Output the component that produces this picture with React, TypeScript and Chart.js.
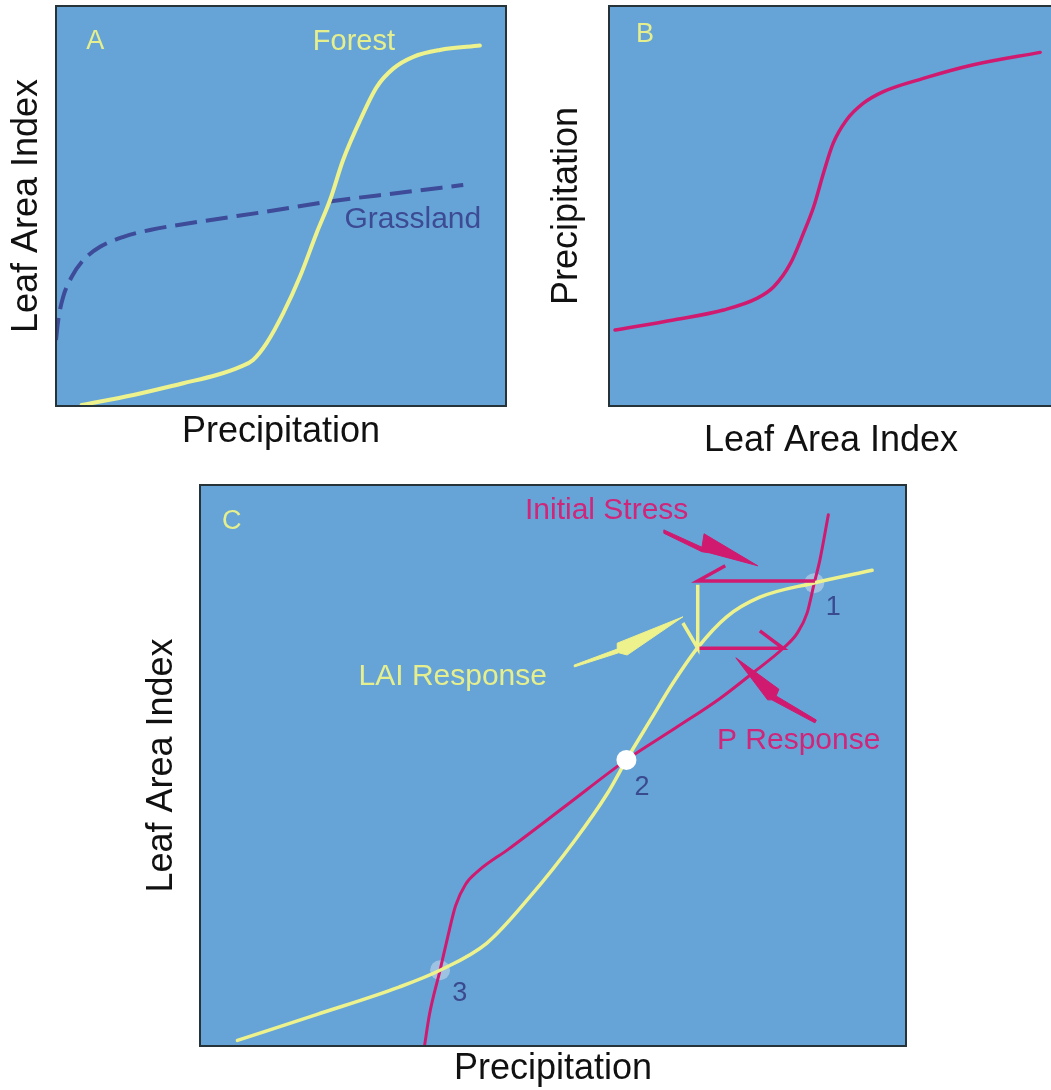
import React, { useEffect, useRef } from 'react';
import { Chart, registerables } from 'chart.js';

Chart.register(...registerables);

const FONT = "'Liberation Sans', Arial, Helvetica, sans-serif";
const BG = '#66a4d7';
const BORDER = '#26343a';
const YELLOW = '#eef28c';
const MAGENTA = '#cf1a70';
const NAVY = '#3d4b99';

// ---------- Panel A: LAI vs precipitation ----------
const forestPrecip = [5.7, 17.2, 28.3, 35.7, 40.9, 43.8, 46.8, 50.5, 54.2, 57.9, 60.9, 63.8, 67.6, 71.3, 75.0, 79.4, 85.3, 94.2];
const forestLAI = [0.25, 2.75, 5.7, 7.75, 9.8, 11.5, 15.7, 23.2, 32.3, 43.2, 51.5, 61.5, 71.5, 79.8, 84.4, 87.3, 89.0, 90.1];
const grassPrecip = [0, 0.5, 1.6, 3.5, 6.1, 9.8, 15, 20.9, 32, 46.8, 61.6, 76.4, 90.5];
const grassLAI = [16.5, 21.5, 27.3, 32.3, 36.5, 39.8, 42.3, 44, 46.1, 48.6, 51.25, 53.3, 55.25];

// ---------- Panel B: precipitation vs LAI ----------
const bLAI = [1.35, 14.5, 25.8, 33.3, 37.1, 40.9, 43.8, 46.1, 48.3, 50.5, 53.5, 57.3, 61.8, 70.8, 82.1, 97.1];
const bPrecip = [19.0, 21.5, 24.0, 26.9, 29.8, 35.7, 43.2, 49.8, 58.2, 65.7, 71.5, 75.7, 78.6, 81.9, 85.3, 88.4];

// ---------- Panel C: coupled curves ----------
const laiCurveP = [5.3, 16.5, 28.2, 34.0, 40.6, 46.8, 53.0, 57.7, 60.4, 63.9, 67.0, 70.5, 74.6, 79.3, 86.8, 95.2];
const laiCurveL = [1.0, 5.6, 10.5, 13.5, 18.3, 26.7, 36.5, 45.0, 51.0, 58.3, 64.7, 71.0, 76.5, 80.0, 82.5, 84.8];
const precCurveP = [31.8, 32.5, 34.0, 35.1, 36.2, 37.6, 39.5, 43.7, 52.0, 60.4, 67.5, 73.7, 78.3, 82.6, 84.6, 86.0, 87.0, 87.8, 89.0];
const precCurveL = [0, 5.6, 13.5, 19.5, 25.0, 28.8, 31.3, 35.1, 43.0, 51.0, 56.8, 62.0, 66.5, 70.9, 73.6, 77.2, 82.5, 86.6, 94.7];

// response arrows (polyline: shaft + half head)
const stressArrowP = [87.1, 70.5, 74.4];
const stressArrowL = [82.9, 82.9, 85.6];
const laiArrowP = [70.5, 70.5, 68.4];
const laiArrowL = [82.2, 70.9, 75.4];
const pArrowP = [70.5, 82.6, 79.3];
const pArrowL = [70.9, 70.9, 74.0];

// lightning-bolt pointers (closed outlines)
const stressBoltP = [65.7, 71.1, 71.4, 79.0, 72.2, 71.1, 65.7, 65.7];
const stressBoltL = [92.0, 88.9, 91.3, 85.6, 87.9, 88.1, 91.4, 92.0];
const laiBoltP = [53.0, 59.2, 59.1, 68.4, 60.5, 59.3, 53.1, 53.0];
const laiBoltL = [67.9, 70.8, 71.8, 76.5, 69.7, 70.1, 67.6, 67.9];
const pBoltP = [75.9, 82.0, 81.6, 87.3, 87.1, 81.0, 80.4, 75.9];
const pBoltL = [69.2, 63.6, 62.4, 58.1, 57.6, 61.7, 61.7, 69.2];

// equilibrium points
const stablePointsP = [87.0, 34.0];
const stablePointsL = [82.5, 13.5];
const unstablePointP = [60.4];
const unstablePointL = [51.0];

type Label = { text: string; x: number; y: number; size: number; color: string };

const labelsA: Label[] = [
  { text: 'A', x: 8.7, y: 91, size: 27, color: '#e6ef8e' },
  { text: 'Forest', x: 66.2, y: 91, size: 29, color: '#e6ef8e' },
  { text: 'Grassland', x: 79.3, y: 46.5, size: 30, color: '#3d4b94' },
];
const labelsB: Label[] = [{ text: 'B', x: 8.1, y: 92.75, size: 27, color: '#e6ef8e' }];
const labelsC: Label[] = [
  { text: 'C', x: 4.5, y: 93.4, size: 27, color: '#e6ef8e' },
  { text: 'Initial Stress', x: 57.6, y: 95.4, size: 30, color: '#d0267a' },
  { text: 'LAI Response', x: 35.8, y: 65.8, size: 30, color: '#e6ef8e' },
  { text: 'P Response', x: 84.8, y: 54.5, size: 30, color: '#d0267a' },
  { text: '1', x: 89.7, y: 78.1, size: 27, color: '#3a4a8e' },
  { text: '2', x: 62.6, y: 46.0, size: 27, color: '#3a4a8e' },
  { text: '3', x: 36.8, y: 9.4, size: 27, color: '#3a4a8e' },
];

const zip = (xs: number[], ys: number[]) => xs.map((x, i) => ({ x, y: ys[i] }));

function panelPlugin(labels: Label[]) {
  return {
    id: 'panel',
    beforeDatasetsDraw(chart: any) {
      const { ctx, chartArea } = chart;
      ctx.save();
      ctx.fillStyle = BG;
      ctx.fillRect(chartArea.left, chartArea.top, chartArea.right - chartArea.left, chartArea.bottom - chartArea.top);
      ctx.restore();
    },
    afterDatasetsDraw(chart: any) {
      const { ctx, chartArea } = chart;
      const xs = chart.scales.x;
      const ys = chart.scales.y;
      ctx.save();
      ctx.textAlign = 'center';
      ctx.textBaseline = 'middle';
      labels.forEach((l) => {
        ctx.font = `${l.size}px ${FONT}`;
        ctx.fillStyle = l.color;
        ctx.fillText(l.text, xs.getPixelForValue(l.x), ys.getPixelForValue(l.y));
      });
      ctx.strokeStyle = BORDER;
      ctx.lineWidth = 2;
      ctx.strokeRect(chartArea.left, chartArea.top, chartArea.right - chartArea.left, chartArea.bottom - chartArea.top);
      ctx.restore();
    },
  };
}

function axis(title: string, padTop: number, padBottom: number) {
  return {
    type: 'linear',
    min: 0,
    max: 100,
    ticks: { display: false },
    grid: { display: false, drawTicks: false },
    border: { display: false },
    title: {
      display: true,
      text: title,
      color: '#111111',
      font: { family: FONT, size: 36, weight: 'normal' },
      padding: { top: padTop, bottom: padBottom },
    },
  };
}

function curve(data: any[], color: string, width: number, extra: any = {}) {
  return {
    data,
    borderColor: color,
    backgroundColor: color,
    borderWidth: width,
    pointRadius: 0,
    cubicInterpolationMode: 'monotone',
    fill: false,
    borderCapStyle: 'round',
    borderJoinStyle: 'round',
    order: 5,
    ...extra,
  };
}

function arrow(data: any[], color: string) {
  return {
    data,
    borderColor: color,
    backgroundColor: color,
    borderWidth: 3.5,
    pointRadius: 0,
    tension: 0,
    fill: false,
    borderCapStyle: 'butt',
    borderJoinStyle: 'miter',
    order: 4,
  };
}

function bolt(data: any[], color: string) {
  return {
    data,
    borderColor: color,
    backgroundColor: color,
    borderWidth: 1,
    pointRadius: 0,
    tension: 0,
    fill: 'shape',
    order: 3,
  };
}

function baseOptions(layoutPad: any, xAxis: any, yAxis: any) {
  return {
    responsive: false,
    maintainAspectRatio: false,
    animation: false,
    devicePixelRatio: 1,
    events: [],
    layout: { padding: layoutPad },
    plugins: { legend: { display: false }, tooltip: { enabled: false } },
    scales: { x: xAxis, y: yAxis },
  };
}

function configA() {
  return {
    type: 'line',
    data: {
      datasets: [
        curve(zip(forestPrecip, forestLAI), YELLOW, 4),
        curve(zip(grassPrecip, grassLAI), NAVY, 4, { borderDash: [22, 9], borderCapStyle: 'butt', order: 6 }),
      ],
    },
    options: baseOptions({ top: 6, right: 14, left: 0, bottom: 0 }, axis('Precipitation', 4.4, 6.4), axis('Leaf Area Index', 5.4, 7.4)),
    plugins: [panelPlugin(labelsA)],
  };
}

function configB() {
  return {
    type: 'line',
    data: { datasets: [curve(zip(bLAI, bPrecip), MAGENTA, 3.5)] },
    options: baseOptions({ top: 6, right: 2, left: 0, bottom: 0 }, axis('Leaf Area Index', 13.4, 7.4), axis('Precipitation', 5.4, 20.4)),
    plugins: [panelPlugin(labelsB)],
  };
}

function configC() {
  return {
    type: 'line',
    data: {
      datasets: [
        {
          data: zip(stablePointsP, stablePointsL),
          showLine: false,
          pointRadius: 10,
          pointBackgroundColor: 'rgba(226,232,240,0.45)',
          pointBorderWidth: 0,
          order: 10,
        },
        curve(zip(laiCurveP, laiCurveL), YELLOW, 3.5),
        curve(zip(precCurveP, precCurveL), MAGENTA, 3),
        arrow(zip(stressArrowP, stressArrowL), MAGENTA),
        arrow(zip(laiArrowP, laiArrowL), YELLOW),
        arrow(zip(pArrowP, pArrowL), MAGENTA),
        bolt(zip(stressBoltP, stressBoltL), MAGENTA),
        bolt(zip(laiBoltP, laiBoltL), YELLOW),
        bolt(zip(pBoltP, pBoltL), MAGENTA),
        {
          data: zip(unstablePointP, unstablePointL),
          showLine: false,
          pointRadius: 10,
          pointBackgroundColor: '#ffffff',
          pointBorderWidth: 0,
          order: 0,
        },
      ],
    },
    options: baseOptions({ top: 15, right: 14, left: 0, bottom: 0 }, axis('Precipitation', 1.4, 4.4), axis('Leaf Area Index', 20.4, 16.4)),
    plugins: [panelPlugin(labelsC)],
  };
}

function Panel(props: { left: number; top: number; width: number; height: number; make: () => any }) {
  const ref = useRef<HTMLCanvasElement | null>(null);
  useEffect(() => {
    if (!ref.current) return;
    const chart = new Chart(ref.current, props.make() as any);
    return () => chart.destroy();
  }, []);
  return (
    <canvas
      ref={ref}
      width={props.width}
      height={props.height}
      style={{ position: 'absolute', left: props.left, top: props.top, width: props.width, height: props.height, display: 'block' }}
    />
  );
}

export default function App() {
  return (
    <div style={{ position: 'absolute', left: 0, top: 0, width: 1051, height: 1090, overflow: 'hidden', background: '#ffffff' }}>
      <Panel left={0} top={0} width={520} height={460} make={configA} />
      <Panel left={540} top={0} width={515} height={470} make={configB} />
      <Panel left={120} top={470} width={800} height={625} make={configC} />
    </div>
  );
}
